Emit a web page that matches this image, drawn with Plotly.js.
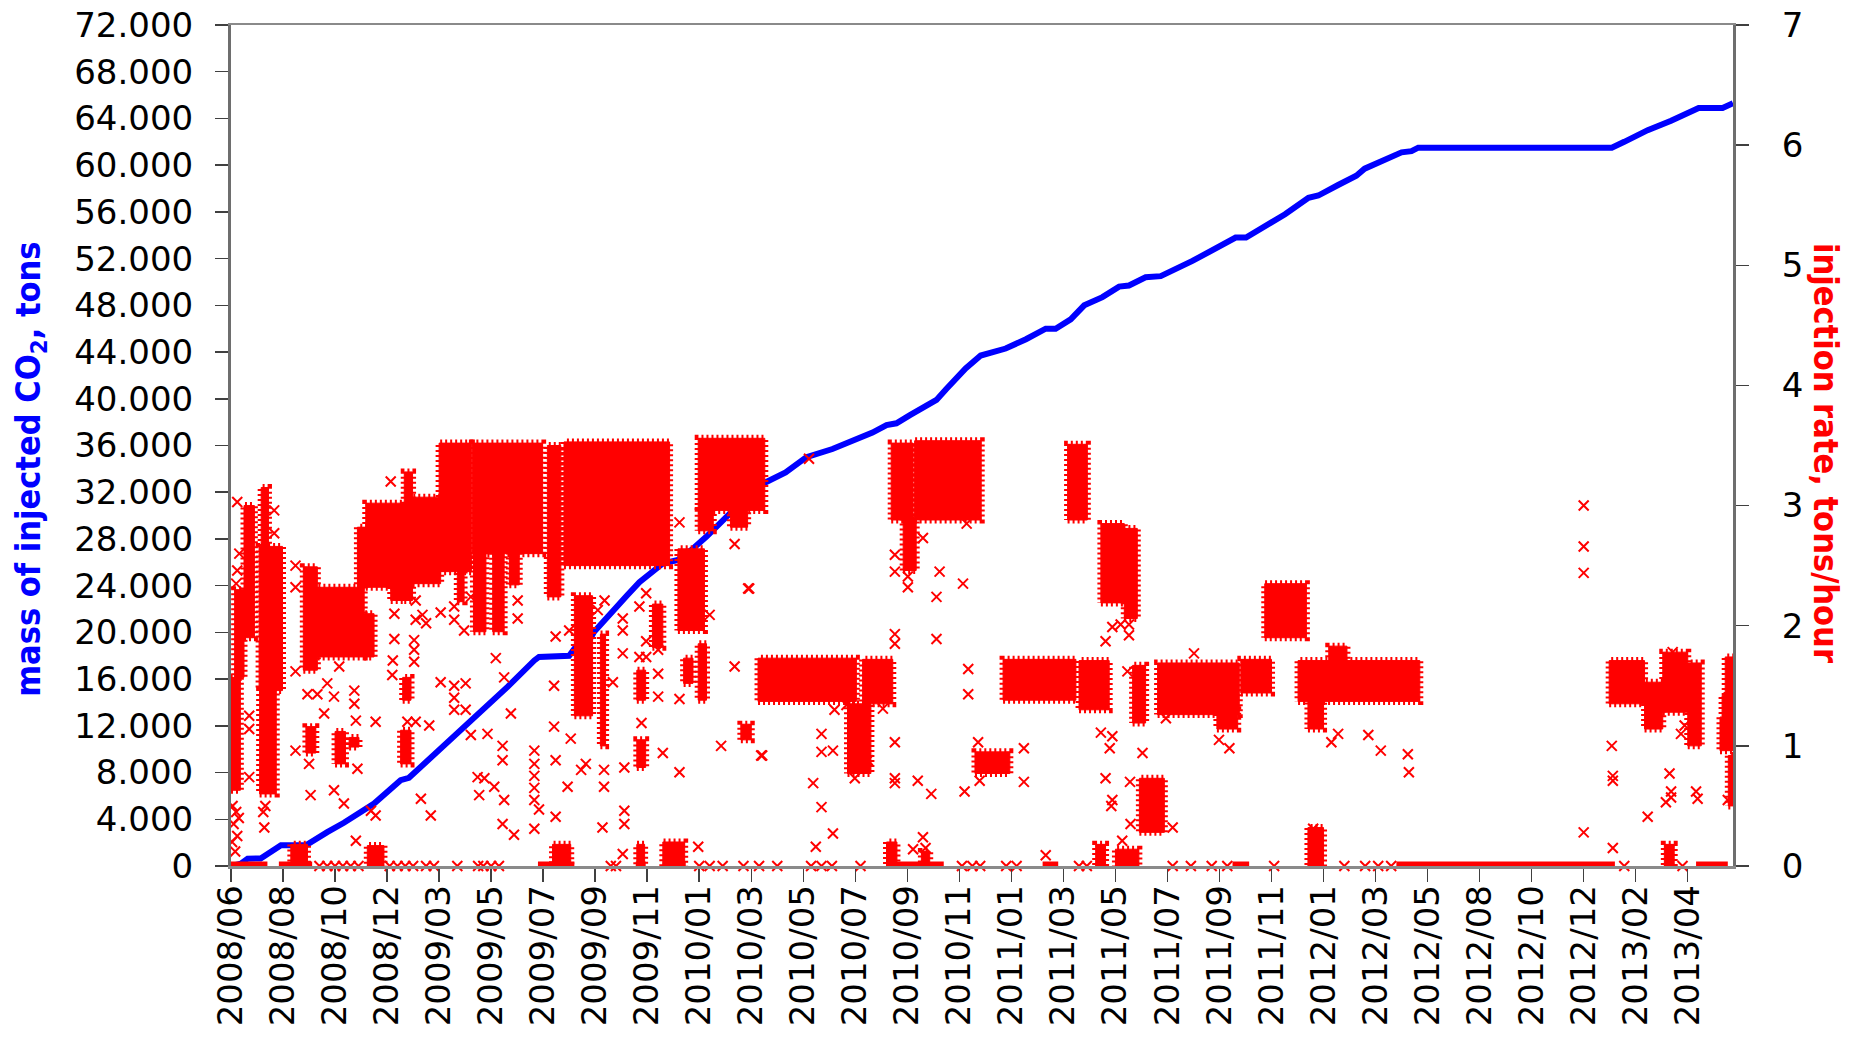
<!DOCTYPE html>
<html>
<head>
<meta charset="utf-8">
<script src="https://cdn.plot.ly/plotly-3.0.1.min.js"></script>
<style>
  html, body { margin: 0; padding: 0; background: #fff; }
  #chart { width: 1855px; height: 1037px; }
</style>
</head>
<body>
<div id="chart"></div>
<script>
// ---------------- DATA ----------------
// Time position along the logged-time axis: 1 unit = one labelled major tick interval.
const tickLabels = ['2008/06','2008/08','2008/10','2008/12','2009/03','2009/05','2009/07','2009/09',
  '2009/11','2010/01','2010/03','2010/05','2010/07','2010/09','2010/11','2011/01','2011/03','2011/05',
  '2011/07','2011/09','2011/11','2012/01','2012/03','2012/05','2012/08','2012/10','2012/12','2013/02','2013/04'];
const tickPos = tickLabels.map((_, i) => i);

const massTickVals = [0,4000,8000,12000,16000,20000,24000,28000,32000,36000,40000,44000,48000,52000,56000,60000,64000,68000,72000];
const massTickText = ['0','4.000','8.000','12.000','16.000','20.000','24.000','28.000','32.000','36.000','40.000',
  '44.000','48.000','52.000','56.000','60.000','64.000','68.000','72.000'];

// cumulative mass of injected CO2 (tons)
const massT = [0, 0.19, 0.32, 0.57, 0.96, 1.44, 1.85, 2.17, 2.75, 3.26, 3.42, 4.03, 4.74, 5.32, 5.83, 5.92,
  6.50, 6.60, 6.85, 6.98, 7.62, 7.85, 8.30, 8.50, 8.59, 8.85, 9.14, 9.65, 10.23, 10.66, 11.06, 11.56, 11.96,
  12.33, 12.60, 12.79, 13.05, 13.30, 13.56, 13.74, 14.12, 14.41, 14.89, 15.28, 15.66, 15.85, 16.14, 16.40,
  16.75, 17.07, 17.26, 17.58, 17.87, 18.48, 19.12, 19.31, 19.51, 19.89, 20.26, 20.71, 20.90, 21.28, 21.63,
  21.79, 22.18, 22.50, 22.69, 22.82, 24.87, 26.54, 26.78, 27.23, 27.68, 28.00, 28.21, 28.67, 28.87];
const massTons = [0, 200, 630, 650, 1770, 1770, 2900, 3700, 5350, 7350, 7550, 10050, 13050, 15350, 17600, 17900,
  18000, 18600, 19050, 20050, 23200, 24300, 25900, 26150, 26200, 27050, 28200, 30450, 32750, 33700, 35000, 35700, 36450,
  37100, 37750, 37900, 38600, 39200, 39900, 40800, 42600, 43700, 44300, 45100, 46000, 46000, 46800, 48000,
  48700, 49600, 49700, 50400, 50500, 51800, 53300, 53800, 53800, 54800, 55800, 57200, 57400, 58300, 59100,
  59700, 60500, 61100, 61200, 61500, 61500, 61500, 62000, 63000, 63800, 64500, 64900, 64900, 65300];

// dense clouds of hourly injection-rate readings: [tStart, tEnd, rateLow, rateHigh] (tons/hour)
const rateClouds = [
  [0.00,0.18,0.63,1.57],[0.07,0.25,1.57,2.30],[0.25,0.45,1.90,3.00],[0.54,0.99,1.46,2.66],[0.55,0.87,0.60,1.46],
  [0.58,0.72,2.66,3.15],[1.39,1.66,1.63,2.49],[1.57,2.56,1.74,2.32],[2.56,2.75,1.74,2.10],[1.44,1.63,0.94,1.16],
  [2.00,2.20,0.85,1.12],[2.27,2.46,0.99,1.07],[2.43,2.62,2.32,2.82],[2.59,3.33,2.32,3.02],[3.07,3.33,2.21,2.32],
  [3.33,3.49,2.21,3.28],[3.49,4.03,2.35,3.07],[3.26,3.46,0.85,1.13],[3.30,3.46,1.38,1.57],[4.00,4.62,2.45,3.52],
  [4.35,4.48,2.20,2.45],[4.64,5.99,2.60,3.52],[4.66,4.90,1.95,2.60],[5.03,5.25,1.95,2.60],[5.35,5.54,2.34,2.60],
  [6.08,6.34,2.24,3.50],[6.40,8.43,2.50,3.53],[6.60,6.95,1.25,2.25],[7.10,7.20,1.00,1.93],[8.59,9.10,1.96,2.64],
  [8.98,10.26,2.96,3.56],[8.98,9.27,2.79,2.96],[9.60,9.93,2.82,2.96],[7.80,7.97,1.38,1.63],[7.80,7.97,0.82,1.05],
  [8.10,8.30,1.82,2.18],[8.70,8.88,1.52,1.73],[8.98,9.14,1.38,1.85],[9.80,10.00,1.05,1.18],[10.13,12.02,1.37,1.73],
  [12.14,12.72,1.35,1.72],[11.85,12.30,0.77,1.35],[12.69,13.11,2.88,3.52],[12.92,13.17,2.46,2.88],[13.14,14.42,2.88,3.54],
  [14.30,14.97,0.77,0.95],[14.84,16.24,1.38,1.72],[16.30,16.88,1.30,1.71],[16.08,16.46,2.88,3.51],[16.72,17.17,2.19,2.85],
  [17.17,17.42,2.06,2.81],[17.33,17.58,1.19,1.67],[17.46,17.94,0.28,0.73],[17.81,19.38,1.26,1.69],[18.95,19.35,1.14,1.30],
  [19.41,20.00,1.44,1.72],[19.87,20.67,1.90,2.35],[20.51,22.85,1.37,1.71],[21.10,21.45,1.71,1.83],[20.70,21.00,1.14,1.37],
  [26.49,27.17,1.35,1.71],[27.17,27.52,1.14,1.53],[27.52,28.00,1.28,1.78],[28.00,28.26,1.00,1.69],[28.62,28.87,0.96,1.24],
  [28.72,28.87,1.42,1.74],[28.78,28.87,0.50,0.92],[28.66,28.87,1.24,1.42],
  [1.15,1.47,0.00,0.18],[2.62,2.94,0.00,0.17],[6.18,6.53,0.00,0.18],[8.30,8.72,0.00,0.20],[7.80,7.95,0.00,0.18],
  [12.60,12.80,0.00,0.20],[13.27,13.43,0.00,0.12],[16.62,16.81,0.00,0.18],[17.00,17.45,0.00,0.14],[20.70,21.00,0.00,0.32],
  [27.55,27.74,0.00,0.18]
];

// continuous runs of zero-rate readings: [tStart, tEnd]
const zeroRuns = [[0.00,0.70],[0.92,1.56],[2.62,2.94],[5.90,6.60],[7.78,7.97],[8.30,8.74],[12.60,13.70],
  [15.60,15.90],[17.00,17.45],[19.25,19.57],[22.40,26.60],[28.16,28.77]];

// isolated zero-rate readings (t)
const zeroPts = [1.70,1.85,2.00,2.15,2.30,2.45,3.05,3.20,3.35,3.50,3.75,3.90,4.35,4.75,4.85,5.00,5.15,7.30,7.40,
  9.00,9.20,9.45,9.85,10.15,10.50,11.15,11.35,11.55,12.10,14.05,14.25,14.40,14.90,15.10,16.30,16.45,18.10,18.45,
  18.85,19.15,20.05,21.40,21.80,22.05,22.30,26.78,27.90];

// isolated injection-rate readings [t, tons/hour]
const ratePts = [
  [0.12,3.03],[0.16,2.60],[0.12,2.46],[0.10,2.35],[0.35,1.25],[0.35,1.14],[0.35,0.74],[0.03,0.50],[0.10,0.45],
  [0.05,0.35],[0.12,0.25],[0.02,0.20],[0.08,0.12],[0.15,0.40],[0.64,0.32],[0.83,2.96],[0.83,2.77],[0.62,0.45],[0.66,0.50],
  [1.24,2.50],[1.24,2.32],[1.24,1.62],[1.24,0.96],[1.53,0.59],[1.50,0.85],[1.47,1.43],[1.66,1.43],[1.79,1.27],[1.85,1.52],
  [1.98,1.41],[1.98,0.63],[2.08,1.66],[2.17,0.52],[2.37,1.46],[2.37,1.35],[2.40,1.21],[2.43,0.81],[2.40,0.21],[2.78,1.20],
  [2.78,0.42],[2.69,0.46],
  [3.07,3.20],[3.14,2.10],[3.14,1.89],[3.11,1.71],[3.10,1.59],[3.39,1.20],[3.55,1.20],[3.55,2.21],[3.55,2.05],[3.52,1.88],
  [3.52,1.80],[3.52,1.70],[3.65,0.56],[3.68,2.09],[3.75,2.02],[3.81,1.17],[3.84,0.42],
  [4.03,2.11],[4.03,1.53],[4.29,1.50],[4.29,1.40],[4.29,1.30],[4.29,2.16],[4.29,2.05],[4.51,1.52],[4.51,1.30],[4.48,1.96],
  [4.61,1.09],[4.61,2.24],[4.74,0.74],[4.77,0.59],[4.87,0.73],[5.06,0.66],[4.93,1.10],[5.09,1.73],[5.22,1.00],[5.22,0.88],
  [5.25,0.55],[5.22,0.35],[5.38,1.27],[5.44,0.26],[5.25,1.57],[5.51,2.21],[5.51,2.06],[5.83,0.96],[5.83,0.85],[5.83,0.75],
  [5.83,0.65],[5.83,0.55],[5.83,0.31],[5.92,0.47],[6.24,0.41],[6.21,1.16],[6.24,0.88],[6.24,1.91],[6.21,1.50],[6.50,1.96],
  [6.47,0.66],[6.53,1.06],[6.73,0.80],[6.82,0.85],[7.05,2.13],[7.17,0.80],[7.17,0.66],[7.14,0.32],[7.18,2.21],[7.34,1.53],
  [7.53,2.06],[7.53,1.96],[7.53,1.77],[7.56,0.82],[7.56,0.46],[7.56,0.35],[7.53,0.10],[7.89,1.19],[7.85,1.74],[7.85,2.16],
  [7.98,2.27],[7.98,1.87],[7.98,1.74],[8.21,1.80],[8.21,1.60],[8.21,1.41],[8.30,0.94],[8.62,2.86],[8.62,1.39],[8.62,0.78],
  [9.20,2.09],[8.98,0.16],[9.42,1.00],[9.68,2.68],[9.68,1.66],[9.94,2.31],[10.19,0.92],[9.96,2.31],[10.21,0.92],
  [11.11,3.39],[11.19,0.69],[11.35,1.10],[11.35,0.95],[11.35,0.49],[11.57,0.96],[11.57,0.27],[11.60,1.30],[11.83,1.34],
  [11.99,0.73],[12.24,0.88],[12.53,1.31],[12.76,2.59],[12.76,2.45],[12.76,1.93],[12.76,1.85],[12.76,1.03],[12.76,0.73],
  [12.76,0.69],[13.01,2.41],[13.01,2.32],[13.20,0.71],[13.30,2.73],[13.30,0.24],[13.46,0.60],[13.56,2.24],[13.56,1.89],
  [13.62,2.45],[14.07,2.35],[14.14,2.85],[14.10,0.62],[14.17,1.64],[14.17,1.43],[14.36,1.03],[14.39,0.71],[13.11,0.14],
  [11.24,0.16],[13.35,0.15],
  [15.24,0.98],[15.24,0.70],[15.66,0.09],[16.81,1.87],[16.94,1.99],[17.10,2.01],[17.26,2.01],[17.26,1.92],[17.23,1.62],
  [16.72,1.11],[16.94,1.08],[16.89,0.98],[16.81,0.73],[16.94,0.55],[16.92,0.50],[17.13,0.21],[17.28,0.70],[17.29,0.35],
  [17.52,0.94],[17.97,1.23],[18.10,0.32],[18.51,1.77],[18.99,1.05],[19.19,0.98],
  [21.15,1.03],[21.28,1.10],[21.86,1.09],[22.10,0.96],[22.62,0.93],[22.64,0.78],[20.80,0.31],[20.83,0.24],[20.83,1.26],
  [26.00,3.00],[26.00,2.66],[26.00,2.44],[26.00,0.28],[26.54,1.00],[26.56,0.75],[26.56,0.71],[26.56,0.15],[27.23,0.41],
  [27.65,0.77],[27.68,0.62],[27.68,0.57],[27.58,0.53],[28.16,0.62],[28.19,0.56],[27.87,1.10],[27.94,1.17],[27.71,1.78],
  [28.77,0.55]
];

// ---------------- BUILD TRACES ----------------
const RED = '#FF0000', BLUE = '#0000FF';

const cloudX = [], cloudY = [];
rateClouds.forEach(([t0, t1, lo, hi]) => {
  cloudX.push(t0, t1, t1, t0, t0, null);
  cloudY.push(lo, lo, hi, hi, lo, null);
});
const zeroX = [], zeroY = [];
zeroRuns.forEach(([t0, t1]) => { zeroX.push(t0, t1, null); zeroY.push(0, 0, null); });

const xMarker = { symbol: 'x-thin', size: 10, color: RED, line: { color: RED, width: 2 } };

const traces = [
  { x: massT, y: massTons, type: 'scatter', mode: 'lines', yaxis: 'y',
    line: { color: BLUE, width: 6 }, hoverinfo: 'skip' },
  // filled cloud bodies
  { x: cloudX, y: cloudY, type: 'scatter', mode: 'lines', yaxis: 'y2', fill: 'toself',
    fillcolor: RED, line: { color: RED, width: 1 }, connectgaps: false, hoverinfo: 'skip' },
  // ragged cloud edges (styling of the same outlines)
  { x: cloudX, y: cloudY, type: 'scatter', mode: 'lines', yaxis: 'y2',
    line: { color: RED, width: 7, dash: '2px,3px' }, connectgaps: false, hoverinfo: 'skip' },
  { x: zeroX, y: zeroY, type: 'scatter', mode: 'lines', yaxis: 'y2',
    line: { color: RED, width: 9 }, connectgaps: false, hoverinfo: 'skip' },
  { x: ratePts.map(p => p[0]), y: ratePts.map(p => p[1]), type: 'scatter', mode: 'markers', yaxis: 'y2',
    marker: xMarker, hoverinfo: 'skip' },
  { x: zeroPts, y: zeroPts.map(() => 0), type: 'scatter', mode: 'markers', yaxis: 'y2',
    marker: xMarker, cliponaxis: false, hoverinfo: 'skip' }
];

const axisCommon = { showgrid: false, zeroline: false, ticks: 'outside', ticklen: 13, tickwidth: 1.5,
  tickcolor: '#404040', showline: true, linecolor: '#6e6e6e', linewidth: 3 };

const titleFont = { family: 'Liberation Sans Narrow, DejaVu Sans Condensed, Arial Narrow, sans-serif', size: 34, weight: 'bold' };

const layout = {
  width: 1855, height: 1037,
  margin: { l: 231, r: 122, t: 25, b: 171, pad: 0 },
  paper_bgcolor: '#ffffff', plot_bgcolor: '#ffffff',
  showlegend: false,
  font: { family: 'DejaVu Sans, Verdana, sans-serif', size: 34, color: '#000000' },
  xaxis: Object.assign({}, axisCommon, {
    range: [0, 28.87], tickmode: 'array', tickvals: tickPos, ticktext: tickLabels, tickangle: -90,
    mirror: true, linewidth: 2.5, linecolor: '#8a8a8a', tickfont: { size: 34 }, ticklabelstandoff: -10
  }),
  yaxis: Object.assign({}, axisCommon, {
    range: [0, 72000], tickmode: 'array', tickvals: massTickVals, ticktext: massTickText, ticklabelstandoff: 15
  }),
  yaxis2: Object.assign({}, axisCommon, {
    overlaying: 'y', side: 'right', range: [0, 7], dtick: 1, tick0: 0, ticklabelstandoff: 26
  }),
  yaxis3: { overlaying: 'y', side: 'right', range: [0, 7], dtick: 1, tick0: 0, ticks: 'inside', ticklen: 13,
    tickwidth: 1.5, tickcolor: '#404040', showticklabels: false, showline: false, showgrid: false, zeroline: false },
  annotations: [
    { xref: 'paper', yref: 'paper', x: -0.134, y: 0.472, xanchor: 'center', yanchor: 'middle', textangle: -90,
      showarrow: false, text: 'mass of injected CO<sub>2</sub>, tons', font: Object.assign({}, titleFont, { color: BLUE }) },
    { xref: 'paper', yref: 'paper', x: 1.0616, y: 0.4905, xanchor: 'center', yanchor: 'middle', textangle: 90,
      showarrow: false, text: 'injection rate, tons/hour', font: Object.assign({}, titleFont, { color: RED }) }
  ]
};

Plotly.newPlot('chart', traces, layout, { staticPlot: true, displayModeBar: false });
</script>
</body>
</html>
